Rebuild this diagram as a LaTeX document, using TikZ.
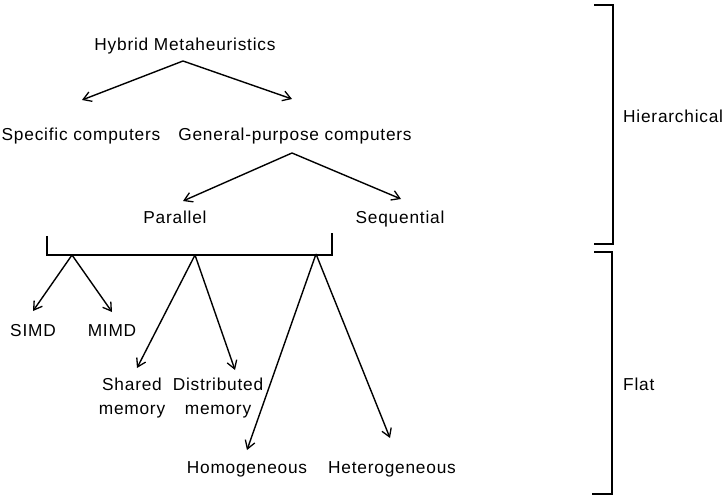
\documentclass[tikz,border=0pt]{standalone}
\usepackage{fontspec}
\setmainfont{Liberation Sans}[LetterSpace=4.5]
\usetikzlibrary{arrows.meta}
\begin{document}
\begin{tikzpicture}[x=1bp,y=-1bp,
  lbl/.style={anchor=base,inner sep=0pt,font=\fontsize{17.3bp}{24bp}\selectfont},
  lblw/.style={lbl,anchor=base west},
  arr/.style={line width=1.4bp,-{Straight Barb[length=8bp,width=10bp,line width=1.3bp]}},
  ln/.style={line width=1.5bp}]
\useasboundingbox (0,0) rectangle (722,500);
% labels
\node[lbl] (hm) at (185,51) {Hybrid Metaheuristics};
\node[lbl] (sc) at (81,141) {Specific computers};
\node[lbl] (gp) at (295,141) {General-purpose computers};
\node[lbl] (par) at (175,224) {Parallel};
\node[lbl] (seq) at (400,224) {Sequential};
\node[lbl] (simd) at (33,336) {SIMD};
\node[lbl] (mimd) at (112,336) {MIMD};
\node[lbl,align=center] (sh) at (132,414) {Shared\\memory};
\node[lbl,align=center] (di) at (218,414) {Distributed\\memory};
\node[lbl] (ho) at (247,473) {Homogeneous};
\node[lbl] (he) at (392,473) {Heterogeneous};
\node[lblw] (hi) at (623,123) {Hierarchical};
\node[lblw] (fl) at (623,390) {Flat};
% branch points
\coordinate (a0) at (183,61);
\coordinate (t0l) at (82,100);
\coordinate (t0r) at (292,99);
\coordinate (a1) at (292,153);
\coordinate (t1l) at (183,201);
\coordinate (t1r) at (401,199);
\coordinate (bl) at (47,236);
\coordinate (br) at (332,233);
\coordinate (a2) at (72,255);
\coordinate (a3) at (195,255);
\coordinate (a4) at (316,254);
\coordinate (t2l) at (33,311);
\coordinate (t2r) at (112,312);
\coordinate (t3l) at (137,368);
\coordinate (t3r) at (235,370);
\coordinate (t4l) at (247,450);
\coordinate (t4r) at (390,438);
% arrows
\draw[arr] (a0) -- (t0l);
\draw[arr] (a0) -- (t0r);
\draw[arr] (a1) -- (t1l);
\draw[arr] (a1) -- (t1r);
\draw[ln] (bl) |- (br |- a2) -- (br);
\draw[arr] (a2) -- (t2l);
\draw[arr] (a2) -- (t2r);
\draw[arr] (a3) -- (t3l);
\draw[arr] (a3) -- (t3r);
\draw[arr] (a4) -- (t4l);
\draw[arr] (a4) -- (t4r);
% right brackets
\coordinate (h1) at (594,5);
\coordinate (h2) at (594,244);
\coordinate (f1) at (594,252);
\coordinate (f2) at (592,494);
\draw[ln] (h1) -- ++(19,0) |- (h2);
\draw[ln] (f1) -- ++(18,0) |- (f2);
\end{tikzpicture}
\end{document}
